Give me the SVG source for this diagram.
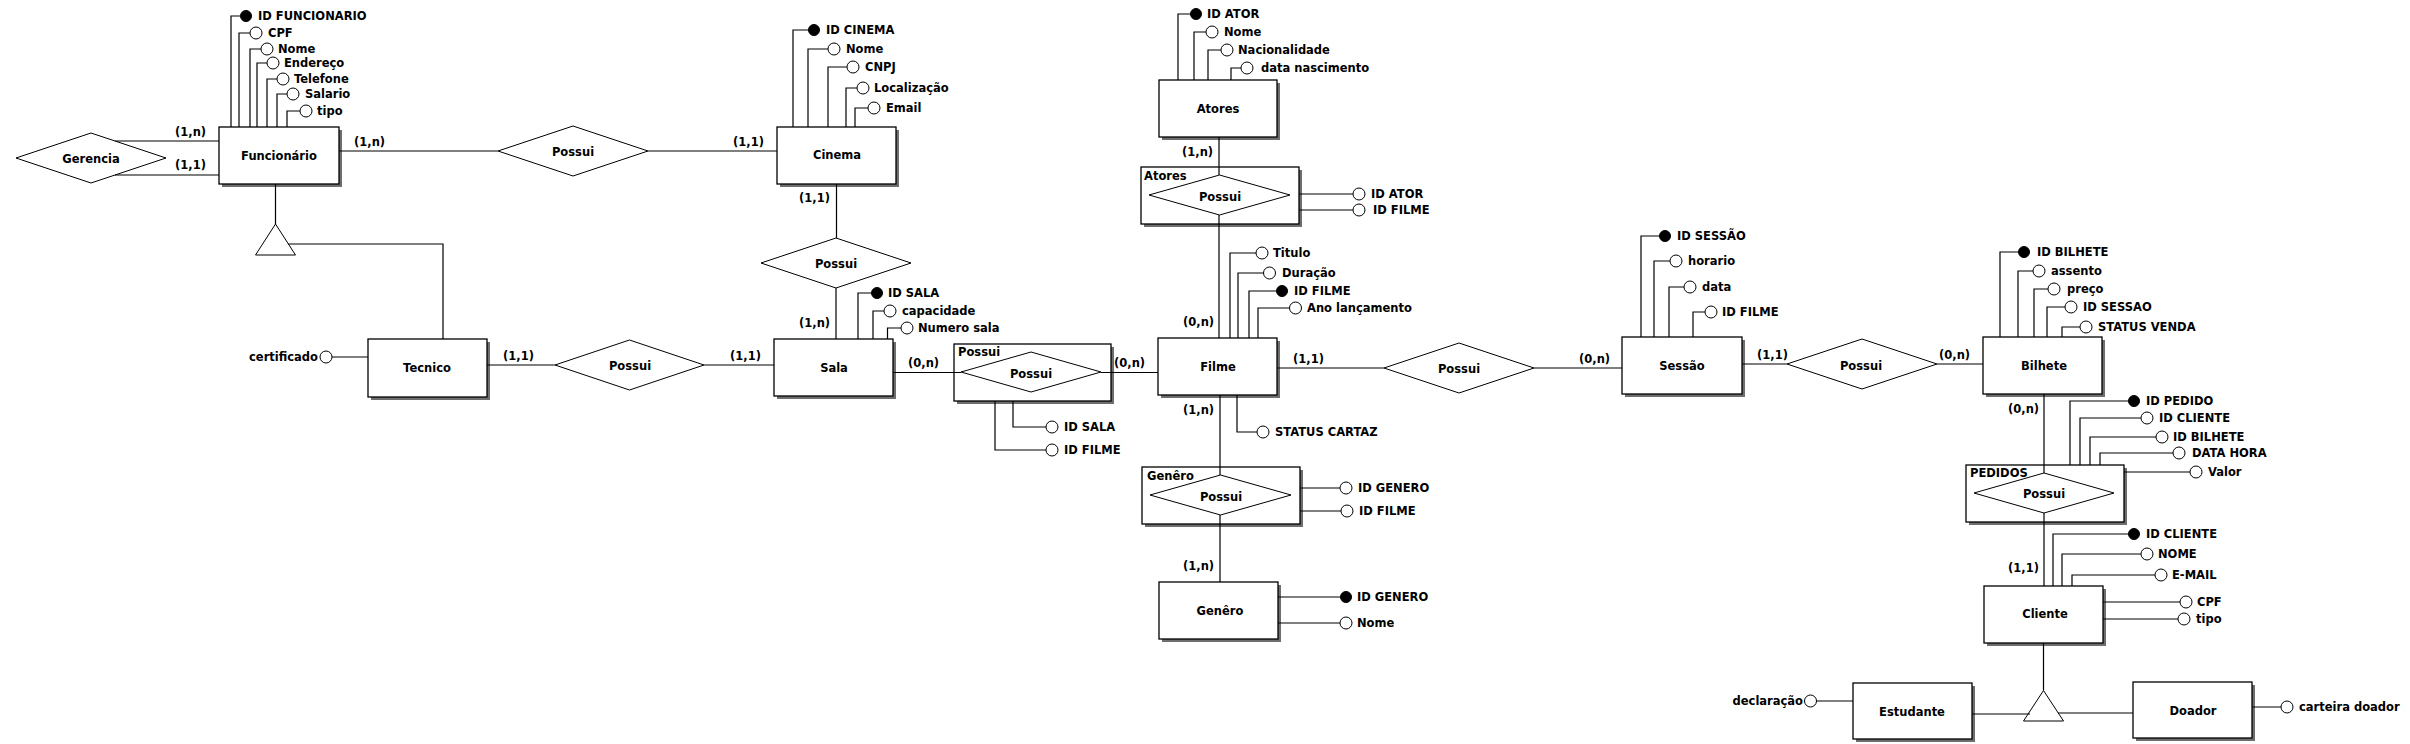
<svg xmlns="http://www.w3.org/2000/svg" width="2410" height="744" viewBox="0 0 2410 744">
<style>
text{font-family:"DejaVu Sans","Liberation Sans",sans-serif;font-weight:bold;font-size:11.5px;fill:#000;dominant-baseline:central}
.c{text-anchor:middle}
.r{text-anchor:end}
.e{fill:#fff;stroke:#000;stroke-width:1.3}
.sh{fill:#6e6e6e}
.d{fill:#fff;stroke:#000;stroke-width:1}
.a{fill:#fff;stroke:#000;stroke-width:1}
.k{fill:#000;stroke:#000;stroke-width:1}
.l{fill:none;stroke:#000;stroke-width:1.2}
</style>
<rect width="2410" height="744" fill="#fff"/>

<g id="gerencia"><polygon class="d" points="16,158 91,133 166,158 91,183"/><text class="c" x="91" y="159">Gerencia</text></g>

<g id="funcionario">
<rect class="sh" x="222" y="130" width="120" height="57"/><rect class="e" x="219" y="127" width="120" height="57"/>
<text class="c" x="279" y="156">Funcionário</text>
<circle class="k" cx="246" cy="16" r="5.5"/><text x="258" y="16">ID  FUNCIONARIO</text>
<circle class="a" cx="256" cy="33" r="6"/><text x="268" y="33">CPF</text>
<circle class="a" cx="267" cy="49" r="6"/><text x="278" y="49">Nome</text>
<circle class="a" cx="273" cy="63" r="6"/><text x="284" y="63">Endereço</text>
<circle class="a" cx="283" cy="79" r="6"/><text x="294" y="79">Telefone</text>
<circle class="a" cx="293" cy="94" r="6"/><text x="305" y="94">Salario</text>
<circle class="a" cx="306" cy="111" r="6"/><text x="317" y="111">tipo</text>
</g>

<g id="heranca-funcionario"><polygon class="d" points="275.5,224 255.5,255 295.5,255"/></g>

<g id="possui-func-cinema"><polygon class="d" points="498,151 573,126 648,151 573,176"/><text class="c" x="573" y="152">Possui</text></g>

<g id="cinema">
<rect class="sh" x="780" y="130" width="119" height="57"/><rect class="e" x="777" y="127" width="119" height="57"/>
<text class="c" x="837" y="155">Cinema</text>
<circle class="k" cx="814" cy="30" r="5.5"/><text x="826" y="30">ID  CINEMA</text>
<circle class="a" cx="834" cy="49" r="6"/><text x="846" y="49">Nome</text>
<circle class="a" cx="853" cy="67" r="6"/><text x="865" y="67">CNPJ</text>
<circle class="a" cx="863" cy="88" r="6"/><text x="874" y="88">Localização</text>
<circle class="a" cx="874" cy="108" r="6"/><text x="886" y="108">Email</text>
</g>

<g id="possui-cinema-sala"><polygon class="d" points="761,263 836,238 911,263 836,288"/><text class="c" x="836" y="264">Possui</text></g>

<g id="tecnico">
<rect class="sh" x="371" y="342" width="119" height="58"/><rect class="e" x="368" y="339" width="119" height="58"/>
<text class="c" x="427" y="368">Tecnico</text>
<circle class="a" cx="326" cy="357" r="6"/><text class="r" x="318" y="357">certificado</text>
</g>

<g id="possui-tecnico-sala"><polygon class="d" points="555,365 629.5,340 704,365 629.5,390"/><text class="c" x="630" y="366">Possui</text></g>

<g id="sala">
<rect class="sh" x="777" y="342" width="119" height="57"/><rect class="e" x="774" y="339" width="119" height="57"/>
<text class="c" x="834" y="368">Sala</text>
<circle class="k" cx="877" cy="293" r="5.5"/><text x="888" y="293">ID  SALA</text>
<circle class="a" cx="890" cy="311" r="6"/><text x="902" y="311">capacidade</text>
<circle class="a" cx="907" cy="328" r="6"/><text x="918" y="328">Numero  sala</text>
</g>

<g id="possui-sala-filme">
<rect class="sh" x="957" y="347" width="157" height="57"/><rect class="e" x="954" y="344" width="157" height="57"/>
<text x="958" y="352">Possui</text>
<polygon class="d" points="961,372 1031,352 1101,372 1031,392"/><text class="c" x="1031" y="374">Possui</text>
<circle class="a" cx="1052" cy="427" r="6"/><text x="1064" y="427">ID  SALA</text>
<circle class="a" cx="1052" cy="450" r="6"/><text x="1064" y="450">ID  FILME</text>
</g>

<g id="atores">
<rect class="sh" x="1162" y="83" width="118" height="57"/><rect class="e" x="1159" y="80" width="118" height="57"/>
<text class="c" x="1218" y="109">Atores</text>
<circle class="k" cx="1196" cy="14" r="5.5"/><text x="1207" y="14">ID  ATOR</text>
<circle class="a" cx="1212" cy="32" r="6"/><text x="1224" y="32">Nome</text>
<circle class="a" cx="1227" cy="50" r="6"/><text x="1238" y="50">Nacionalidade</text>
<circle class="a" cx="1247" cy="68" r="6"/><text x="1261" y="68">data  nascimento</text>
</g>

<g id="possui-atores-filme">
<rect class="sh" x="1144" y="170" width="158" height="57"/><rect class="e" x="1141" y="167" width="158" height="57"/>
<text x="1144" y="176">Atores</text>
<polygon class="d" points="1149,195 1219.5,175 1290,195 1219.5,215"/><text class="c" x="1220" y="197">Possui</text>
<circle class="a" cx="1359" cy="194" r="6"/><text x="1371" y="194">ID  ATOR</text>
<circle class="a" cx="1359" cy="210" r="6"/><text x="1373" y="210">ID  FILME</text>
</g>

<g id="filme">
<rect class="sh" x="1161" y="341" width="119" height="57"/><rect class="e" x="1158" y="338" width="119" height="57"/>
<text class="c" x="1218" y="367">Filme</text>
<circle class="a" cx="1262" cy="253" r="6"/><text x="1273" y="253">Titulo</text>
<circle class="a" cx="1269.5" cy="273" r="6"/><text x="1282" y="273">Duração</text>
<circle class="k" cx="1282" cy="291" r="5.5"/><text x="1294" y="291">ID  FILME</text>
<circle class="a" cx="1295.5" cy="308" r="6"/><text x="1307" y="308">Ano  lançamento</text>
<circle class="a" cx="1263" cy="432" r="6"/><text x="1275" y="432">STATUS  CARTAZ</text>
</g>

<g id="possui-genero-filme">
<rect class="sh" x="1145" y="470" width="158" height="57"/><rect class="e" x="1142" y="467" width="158" height="57"/>
<text x="1147" y="476">Genêro</text>
<polygon class="d" points="1150,495 1220.5,475 1291,495 1220.5,515"/><text class="c" x="1221" y="497">Possui</text>
<circle class="a" cx="1346" cy="488" r="6"/><text x="1358" y="488">ID  GENERO</text>
<circle class="a" cx="1347" cy="511" r="6"/><text x="1359" y="511">ID  FILME</text>
</g>

<g id="genero">
<rect class="sh" x="1162" y="585" width="119" height="57"/><rect class="e" x="1159" y="582" width="119" height="57"/>
<text class="c" x="1220" y="611">Genêro</text>
<circle class="k" cx="1346" cy="597" r="5.5"/><text x="1357" y="597">ID  GENERO</text>
<circle class="a" cx="1346" cy="623" r="6"/><text x="1357" y="623">Nome</text>
</g>

<g id="possui-filme-sessao"><polygon class="d" points="1384,368 1459,343 1534,368 1459,393"/><text class="c" x="1459" y="369">Possui</text></g>

<g id="sessao">
<rect class="sh" x="1625" y="340" width="120" height="57"/><rect class="e" x="1622" y="337" width="120" height="57"/>
<text class="c" x="1682" y="366">Sessão</text>
<circle class="k" cx="1665" cy="236" r="5.5"/><text x="1677" y="236">ID  SESSÃO</text>
<circle class="a" cx="1676" cy="261" r="6"/><text x="1688" y="261">horario</text>
<circle class="a" cx="1690" cy="287" r="6"/><text x="1702" y="287">data</text>
<circle class="a" cx="1711" cy="312" r="6"/><text x="1722" y="312">ID  FILME</text>
</g>

<g id="possui-sessao-bilhete"><polygon class="d" points="1787,364 1862,339 1937,364 1862,389"/><text class="c" x="1861" y="366">Possui</text></g>

<g id="bilhete">
<rect class="sh" x="1986" y="340" width="119" height="57"/><rect class="e" x="1983" y="337" width="119" height="57"/>
<text class="c" x="2044" y="366">Bilhete</text>
<circle class="k" cx="2024" cy="252" r="5.5"/><text x="2037" y="252">ID  BILHETE</text>
<circle class="a" cx="2039" cy="271" r="6"/><text x="2051" y="271">assento</text>
<circle class="a" cx="2054" cy="289" r="6"/><text x="2067" y="289">preço</text>
<circle class="a" cx="2071" cy="307" r="6"/><text x="2083" y="307">ID  SESSAO</text>
<circle class="a" cx="2086" cy="327" r="6"/><text x="2098" y="327">STATUS  VENDA</text>
</g>

<g id="pedidos">
<rect class="sh" x="1969" y="468" width="158" height="57"/><rect class="e" x="1966" y="465" width="158" height="57"/>
<text x="1970" y="473">PEDIDOS</text>
<polygon class="d" points="1974,493 2044,473 2114,493 2044,513"/><text class="c" x="2044" y="494">Possui</text>
<circle class="k" cx="2134" cy="401" r="5.5"/><text x="2146" y="401">ID  PEDIDO</text>
<circle class="a" cx="2147" cy="418" r="6"/><text x="2159" y="418">ID  CLIENTE</text>
<circle class="a" cx="2162" cy="437" r="6"/><text x="2173" y="437">ID  BILHETE</text>
<circle class="a" cx="2179" cy="453" r="6"/><text x="2192" y="453">DATA  HORA</text>
<circle class="a" cx="2196" cy="472" r="6"/><text x="2208" y="472">Valor</text>
</g>

<g id="cliente">
<rect class="sh" x="1987" y="589" width="119" height="57"/><rect class="e" x="1984" y="586" width="119" height="57"/>
<text class="c" x="2045" y="614">Cliente</text>
<circle class="k" cx="2134" cy="534" r="5.5"/><text x="2146" y="534">ID  CLIENTE</text>
<circle class="a" cx="2147" cy="554" r="6"/><text x="2158" y="554">NOME</text>
<circle class="a" cx="2161" cy="575" r="6"/><text x="2172" y="575">E-MAIL</text>
<circle class="a" cx="2186" cy="602" r="6"/><text x="2197" y="602">CPF</text>
<circle class="a" cx="2184" cy="619" r="6"/><text x="2196" y="619">tipo</text>
</g>

<g id="heranca-cliente"><polygon class="d" points="2043.5,690.5 2023.5,721 2063.5,721"/></g>

<g id="estudante">
<rect class="sh" x="1856" y="686" width="119" height="56"/><rect class="e" x="1853" y="683" width="119" height="56"/>
<text class="c" x="1912" y="712">Estudante</text>
<circle class="a" cx="1810.5" cy="701" r="6"/><text class="r" x="1803" y="701">declaração</text>
</g>

<g id="doador">
<rect class="sh" x="2136" y="685" width="119" height="56"/><rect class="e" x="2133" y="682" width="119" height="56"/>
<text class="c" x="2193" y="711">Doador</text>
<circle class="a" cx="2287" cy="707" r="6"/><text x="2299" y="707">carteira  doador</text>
</g>

<g id="connectors" class="l">
<path class="l" d="M115,141H219M115,175H219M339,151H498M648,151H777M836.5,184V238M836,288V339M275.5,184V224M288,244H443V339M487,365H555M704,365H774M893,372.5H961M1101,372.5H1158M1219,137V175M1219,215V338M1220,395V475M1220,515V582M1277,368H1384M1534,368H1622M1742,364H1787M1937,364H1983M2044,394V473M2044,513V586M2043.5,643V690.5M1972,714H2030M2058,713H2133"/>
<path class="l" d="M231,127V16H240.5M239,127V33H250M250,127V49H261M257,127V63H267M267,127V79H277M277,127V94H287M287,127V111H300"/>
<path class="l" d="M793,127V30H808.5M808,127V49H828M828,127V67H847M846,127V88H857M855,127V108H868"/>
<path class="l" d="M858,339V293H871.5M873,339V311H884M887.5,339V328H901"/>
<path class="l" d="M1013,401V427H1046M995,401V450H1046"/>
<path class="l" d="M1178,80V14H1190.5M1194,80V32H1206M1208,80V50H1221M1231,80V68H1241"/>
<path class="l" d="M1299,194H1353M1299,210H1353"/>
<path class="l" d="M1230,338V253H1256M1238,338V273H1263.5M1249,338V291H1276.5M1258,338V308H1289.5M1237,395V432H1257"/>
<path class="l" d="M1300,488H1340M1300,511H1341M1278,597H1340.5M1278,623H1340"/>
<path class="l" d="M1641,337V236H1659.5M1654,337V261H1670M1669,337V287H1684M1693,337V312H1705"/>
<path class="l" d="M2000,337V252H2018.5M2018,337V271H2033M2034,337V289H2048M2047,337V307H2065M2062,337V327H2080"/>
<path class="l" d="M2070,465V401H2128.5M2080,465V418H2141M2090,465V437H2156M2100,465V453H2173M2124,472H2190"/>
<path class="l" d="M2053,586V534H2128.5M2062,586V554H2141M2072,586V575H2155M2103,602H2180M2103,619H2178"/>
<path class="l" d="M332,357H368M1816.5,701H1853M2252,707H2281"/>
</g>

<g id="cardinalidades">
<text x="175" y="132">(1,n)</text>
<text x="175" y="165">(1,1)</text>
<text x="354" y="142">(1,n)</text>
<text x="733" y="142">(1,1)</text>
<text x="799" y="198">(1,1)</text>
<text x="799" y="323">(1,n)</text>
<text x="503" y="356">(1,1)</text>
<text x="730" y="356">(1,1)</text>
<text x="908" y="363">(0,n)</text>
<text x="1114" y="363">(0,n)</text>
<text x="1183" y="322">(0,n)</text>
<text x="1182" y="152">(1,n)</text>
<text x="1293" y="359">(1,1)</text>
<text x="1183" y="410">(1,n)</text>
<text x="1183" y="566">(1,n)</text>
<text x="1579" y="359">(0,n)</text>
<text x="1757" y="355">(1,1)</text>
<text x="1939" y="355">(0,n)</text>
<text x="2008" y="409">(0,n)</text>
<text x="2008" y="568">(1,1)</text>
</g>
</svg>
